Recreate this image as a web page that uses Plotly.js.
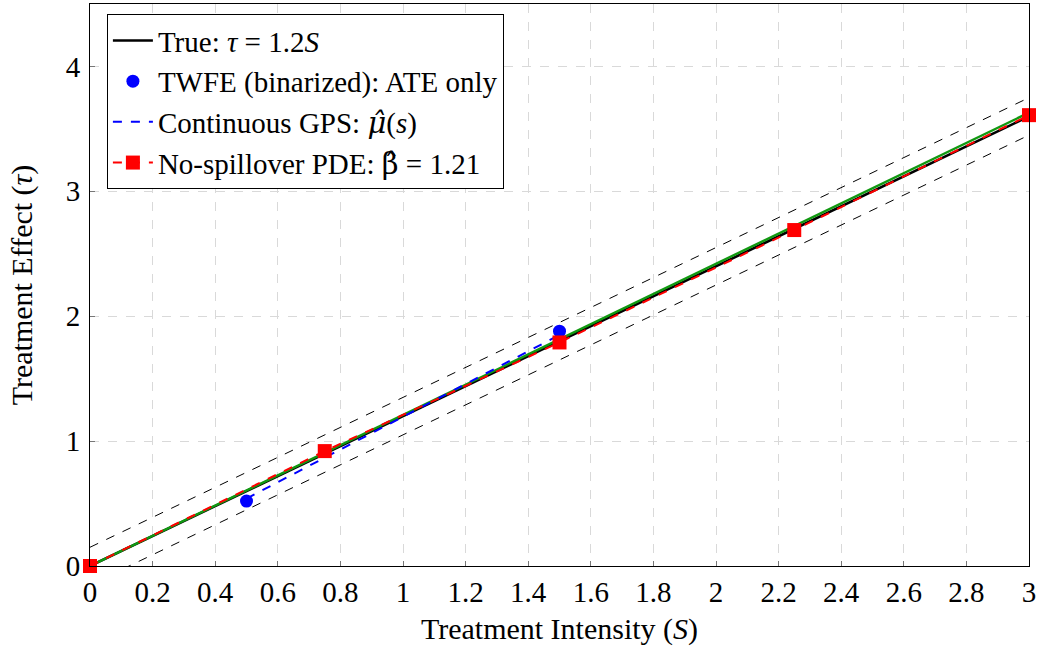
<!DOCTYPE html>
<html>
<head>
<meta charset="utf-8">
<script src="https://cdn.plot.ly/plotly-3.0.1.min.js"></script>
<style>html,body{margin:0;padding:0;background:#fff;}#chart{width:1039px;height:653px;}</style>
</head>
<body>
<div id="chart"></div>
<script>
// True effect line
const trueX = [0, 3];
const trueY = [0, 3.6];
// Fitted (green) line, not in legend
const fitX = [0, 3];
const fitY = [0, 3.63];
// Confidence band (black dashed)
const bandX = [0, 3];
const bandUpper = [0.15, 3.75];
const bandLower = [-0.15, 3.45];
// TWFE binarized points
const twfeX = [0.5, 1.5];
const twfeY = [0.52, 1.88];
// Continuous GPS curve
const gpsX = [0.5, 1.5];
const gpsY = [0.54, 1.85];
// No-spillover PDE
const pdeX = [0, 0.75, 1.5, 2.25, 3];
const pdeY = [0, 0.92, 1.79, 2.69, 3.61];
// Tick labels
const xTickVals = [0, 0.2, 0.4, 0.6, 0.8, 1, 1.2, 1.4, 1.6, 1.8, 2, 2.2, 2.4, 2.6, 2.8, 3];
const xTickText = ["0", "0.2", "0.4", "0.6", "0.8", "1", "1.2", "1.4", "1.6", "1.8", "2", "2.2", "2.4", "2.6", "2.8", "3"];
const yTickVals = [0, 1, 2, 3, 4];
const yTickText = ["0", "1", "2", "3", "4"];

const FONT = "Liberation Serif, DejaVu Serif, serif";
const HAT = '<span style="font-family:DejaVu Serif">';

const traces = [
  {x: bandX, y: bandUpper, mode: "lines", line: {color: "#000", width: 1, dash: "dash"}, showlegend: false, hoverinfo: "skip"},
  {x: bandX, y: bandLower, mode: "lines", line: {color: "#000", width: 1, dash: "dash"}, showlegend: false, hoverinfo: "skip"},
  {x: trueX, y: trueY, mode: "lines", name: "True: <i>τ</i> = 1.2<i>S</i>", line: {color: "#000", width: 2.6}},
  {x: fitX, y: fitY, mode: "lines", line: {color: "#119911", width: 2.4}, showlegend: false},
  {x: twfeX, y: twfeY, mode: "markers", name: "TWFE (binarized): ATE only", marker: {color: "#0000ff", size: 13, symbol: "circle"}, cliponaxis: false},
  {x: gpsX, y: gpsY, mode: "lines", name: "Continuous GPS: " + HAT + "<i>μ̂</i></span>(<i>s</i>)", line: {color: "#0000ff", width: 2, dash: "dash"}},
  {x: pdeX, y: pdeY, mode: "lines+markers", name: "No-spillover PDE: " + HAT + "β̂</span> = 1.21", line: {color: "#ff0000", width: 2, dash: "dash"}, marker: {color: "#ff0000", size: 14, symbol: "square"}, cliponaxis: false}
];

const layout = {
  width: 1039, height: 653,
  margin: {l: 90, r: 10, t: 4, b: 87},
  paper_bgcolor: "#fff", plot_bgcolor: "#fff",
  font: {family: FONT, color: "#000", size: 29},
  showlegend: true,
  legend: {
    x: 0.018, y: 0.982, xanchor: "left", yanchor: "top",
    bgcolor: "#fff", bordercolor: "#000", borderwidth: 1,
    font: {family: FONT, size: 29, color: "#000"},
    itemwidth: 40
  },
  xaxis: {
    range: [0, 3], tickvals: xTickVals, ticktext: xTickText,
    showgrid: true, gridcolor: "#d9d9d9", griddash: "dash", gridwidth: 1,
    zeroline: false, showline: true, linecolor: "#000", linewidth: 1, mirror: true,
    ticks: "inside", ticklen: 5, tickcolor: "#777",
    tickfont: {family: FONT, size: 29},
    title: {text: "Treatment Intensity (<i>S</i>)", font: {family: FONT, size: 30}, standoff: 11}
  },
  yaxis: {
    range: [0, 4.5], tickvals: yTickVals, ticktext: yTickText,
    showgrid: true, gridcolor: "#d9d9d9", griddash: "dash", gridwidth: 1,
    zeroline: false, showline: true, linecolor: "#000", linewidth: 1, mirror: true,
    ticks: "inside", ticklen: 5, tickcolor: "#777", ticklabelstandoff: 3,
    tickfont: {family: FONT, size: 29},
    title: {text: "Treatment Effect (<i>τ</i>)", font: {family: FONT, size: 30}, standoff: 24}
  }
};

Plotly.newPlot("chart", traces, layout, {displayModeBar: false, staticPlot: true});
</script>
</body>
</html>
